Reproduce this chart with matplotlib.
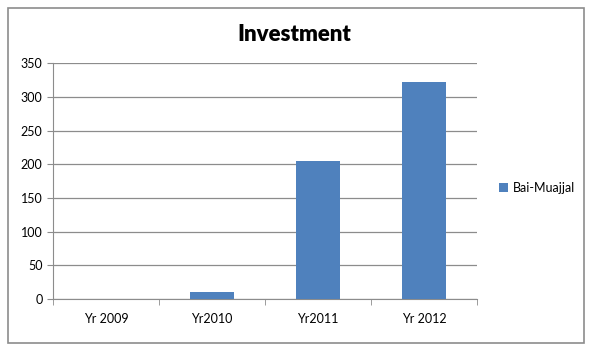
import numpy as np
import matplotlib.pyplot as plt
from matplotlib.patches import Rectangle

years = ['Yr 2009', 'Yr2010', 'Yr2011', 'Yr 2012']
bai_muajjal = [0.8, 10, 205, 322]

plt.rcParams['font.family'] = ['Lato', 'DejaVu Sans']

fig = plt.figure(figsize=(5.93, 3.51), dpi=100)
ax = fig.add_axes([0.0894, 0.148, 0.715, 0.672])

xs = np.arange(len(years))
ax.bar(xs, bai_muajjal, width=0.42, color='#4f81bd', label='Bai-Muajjal', zorder=3)

ax.set_xlim(-0.5, len(years) - 0.5)
ax.set_ylim(0, 350)
ax.set_yticks(np.arange(0, 351, 50))
ax.yaxis.grid(True, color='#8c8c8c', lw=0.9, zorder=0)
ax.set_xticks(xs)
ax.set_xticklabels(years, fontsize=9)
ax.set_xticks(np.arange(-0.5, len(years)), minor=True)
ax.tick_params(axis='x', which='major', length=0, pad=10)
ax.tick_params(axis='x', which='minor', length=4, color='#8c8c8c')
ax.tick_params(axis='y', length=4, color='#8c8c8c', labelsize=9)
for s in ['top', 'right']:
    ax.spines[s].set_visible(False)
for s in ['left', 'bottom']:
    ax.spines[s].set_color('#8c8c8c')

fig.text(0.497, 0.903, 'Investment', ha='center', va='center', fontsize=16, fontweight='heavy')
ax.legend(loc='center left', bbox_to_anchor=(1.025, 0.47), frameon=False, fontsize=9,
          handlelength=0.7, handleheight=0.7, handletextpad=0.4)

fig.patches.append(Rectangle((0.014, 0.022), 0.97, 0.955, transform=fig.transFigure,
                             fill=False, edgecolor='#8c8c8c', lw=1.2))

fig.savefig('out.png', dpi=100)
